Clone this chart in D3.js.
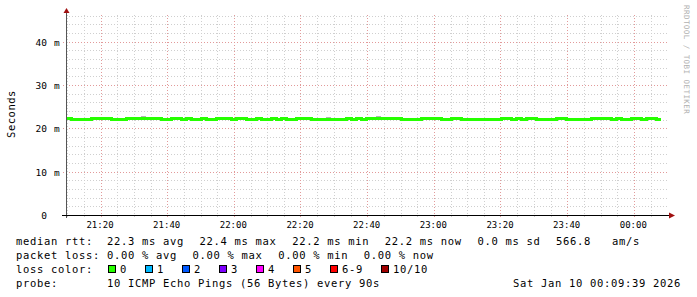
<!DOCTYPE html>
<html><head><meta charset="utf-8">
<script src="https://cdn.jsdelivr.net/npm/d3@7"></script>
<style>html,body{margin:0;padding:0;background:#fff;} svg{display:block;}</style>
</head><body><svg id="c" width="697" height="297"></svg>
<script>
// ---------- data ----------
const startTime = Date.UTC(2026, 0, 9, 21, 9, 39);
const endTime = Date.UTC(2026, 0, 10, 0, 9, 39);
const stepSeconds = 90;
const medianRtt = [
  22.4,22.2,22.2,22.2,22.2,22.4,22.4,22.4,22.4,22.2,
  22.2,22.2,22.4,22.4,22.4,22.4,22.4,22.4,22.4,22.2,
  22.2,22.4,22.4,22.2,22.4,22.2,22.2,22.4,22.2,22.2,
  22.4,22.4,22.4,22.2,22.4,22.4,22.2,22.2,22.4,22.2,
  22.2,22.4,22.2,22.4,22.2,22.2,22.4,22.4,22.4,22.2,
  22.2,22.2,22.2,22.2,22.2,22.2,22.4,22.2,22.4,22.2,
  22.4,22.4,22.4,22.4,22.4,22.4,22.4,22.2,22.2,22.2,
  22.2,22.4,22.4,22.4,22.4,22.2,22.2,22.4,22.4,22.2,
  22.2,22.2,22.2,22.2,22.2,22.2,22.2,22.4,22.4,22.2,
  22.4,22.2,22.4,22.4,22.2,22.2,22.2,22.2,22.4,22.4,
  22.2,22.2,22.2,22.2,22.2,22.4,22.4,22.4,22.4,22.2,
  22.4,22.2,22.2,22.4,22.4,22.2,22.4,22.4,22.2
];
const smokeIndex = [15, 52, 62];
const smokeTop = [22.85, 22.65, 22.75];
const yTicks = [0, 10, 20, 30, 40];
const yUnit = "m";
const xTickLabels = ["21:20","21:40","22:00","22:20","22:40","23:00","23:20","23:40","00:00"];
const row1 = ["median rtt:  22.3 ms avg", "22.4 ms max", "22.2 ms min", "22.2 ms now", "0.0 ms sd", "566.8   am/s"];
const row2 = ["packet loss: 0.00 % avg", "0.00 % max", "0.00 % min", "0.00 % now"];
const lossTitle = "loss color:";
const lossLabels = ["0","1","2","3","4","5","6-9","10/10"];
const lossColors = ["#26ff00","#00b8ff","#0059ff","#7e00ff","#ff00ff","#ff5500","#ff0000","#a10000"];
const probeTitle = "probe:";
const probeText = "10 ICMP Echo Pings (56 Bytes) every 90s";
const stampText = "Sat Jan 10 00:09:39 2026";
const yTitle = "Seconds";
const watermark = "RRDTOOL / TOBI OETIKER";

// ---------- chart ----------
const svg = d3.select("#c");
const X0 = 66, X1 = 666, YB = 215, YT = 15;
const x = d3.scaleUtc().domain([startTime, endTime]).range([X0, X1]);
const y = d3.scaleLinear().domain([0, 46.15]).range([YB, YT]);
const mono = "'DejaVu Sans Mono', monospace";
const nb = s => s.replace(/ /g, "\u00a0");
const CH = 7, GAP = 15.6;

svg.append("rect").attr("width", 697).attr("height", 297).attr("fill", "#fff");

// grid
const g = svg.append("g").attr("shape-rendering", "crispEdges");
const minorY = d3.range(2, 47, 2).filter(v => v % 10 !== 0);
const majorY = d3.range(10, 47, 10);
g.selectAll(".hmin").data(minorY).join("line")
  .attr("x1", X0).attr("x2", 668).attr("y1", d => Math.round(y(d)) + 0.5).attr("y2", d => Math.round(y(d)) + 0.5)
  .attr("stroke", "#cfcfcf").attr("stroke-dasharray", "1,2");
const minorX = d3.utcMinute.every(5).range(startTime, endTime).filter(d => d.getUTCMinutes() % 20 !== 0);
const majorX = d3.utcMinute.every(20).range(startTime, endTime);
g.selectAll(".vmin").data(minorX).join("line")
  .attr("x1", d => Math.round(x(d)) + 0.5).attr("x2", d => Math.round(x(d)) + 0.5)
  .attr("y1", YT).attr("y2", YB + 2)
  .attr("stroke", "#cfcfcf").attr("stroke-dasharray", "1,2");
g.selectAll(".hmaj").data(majorY).join("line")
  .attr("x1", X0 - 3).attr("x2", 668).attr("y1", d => Math.round(y(d)) + 0.5).attr("y2", d => Math.round(y(d)) + 0.5)
  .attr("stroke", "#e29a9a").attr("stroke-dasharray", "1,2");
g.selectAll(".vmaj").data(majorX).join("line")
  .attr("x1", d => Math.round(x(d)) + 0.5).attr("x2", d => Math.round(x(d)) + 0.5)
  .attr("y1", YT).attr("y2", YB + 3)
  .attr("stroke", "#e29a9a").attr("stroke-dasharray", "1,2");

// smoke
const tAt = i => startTime + i * stepSeconds * 1000;
svg.append("g").attr("shape-rendering", "crispEdges").selectAll("rect").data(smokeIndex).join("rect")
  .attr("x", i => x(tAt(i))).attr("width", i => x(tAt(i + 1)) - x(tAt(i)))
  .attr("y", (i, k) => y(smokeTop[k])).attr("height", (i, k) => y(medianRtt[i]) - y(smokeTop[k]) + 1)
  .attr("fill", "#b4b4b4");

// median line
const pts = medianRtt.map((v, i) => [tAt(i), v]);
pts.push([tAt(medianRtt.length), medianRtt[medianRtt.length - 1]]);
svg.append("path").datum(pts)
  .attr("d", d3.line().x(d => x(d[0])).y(d => Math.round(y(d[1])) + 0.5).curve(d3.curveStepAfter))
  .attr("fill", "none").attr("stroke", "#26ff00").attr("stroke-width", 3)
  .attr("shape-rendering", "crispEdges");

// axes
const tickDates = xTickLabels.map(s => {
  const [h, m] = s.split(":").map(Number);
  return new Date(Date.UTC(2026, 0, h < 12 ? 10 : 9, h, m));
});
const xa = svg.append("g").attr("transform", `translate(0,${YB})`)
  .call(d3.axisBottom(x).tickValues(tickDates).tickFormat(d3.utcFormat("%H:%M")).tickSize(0));
xa.select(".domain").remove();
xa.selectAll("text").attr("y", 13).attr("dy", 0).attr("dx", -1)
  .attr("font-family", mono).attr("font-size", "9px").attr("fill", "#000");

const ya = svg.append("g").attr("transform", `translate(${X0},0)`)
  .call(d3.axisLeft(y).tickValues(yTicks).tickFormat(d => d).tickSize(0));
ya.select(".domain").remove();
ya.selectAll("text").attr("x", -19).attr("dy", "0.36em")
  .attr("font-family", mono).attr("font-size", "9.5px").attr("fill", "#000");
ya.selectAll(".tick").filter(d => d !== 0).append("text")
  .attr("x", -12).attr("dy", "0.36em").attr("text-anchor", "start")
  .attr("font-family", mono).attr("font-size", "9.5px").attr("fill", "#000").text(yUnit);

// axis lines and arrows
svg.append("line").attr("x1", X0 + 0.5).attr("x2", X0 + 0.5).attr("y1", YB + 3).attr("y2", 12)
  .attr("stroke", "#555").attr("shape-rendering", "crispEdges");
svg.append("line").attr("x1", X0 - 4).attr("x2", 670).attr("y1", YB + 0.5).attr("y2", YB + 0.5)
  .attr("stroke", "#000").attr("shape-rendering", "crispEdges");
svg.append("path").attr("d", `M${X0 + 0.5},8 L${X0 + 3.5},13 L${X0 - 2.5},13 Z`).attr("fill", "#a01010");
svg.append("path").attr("d", `M675,${YB + 0.5} L669,${YB - 2.5} L669,${YB + 3.5} Z`).attr("fill", "#a01010");

// titles
svg.append("text").attr("transform", "translate(14.5,114) rotate(-90)").attr("text-anchor", "middle")
  .attr("font-family", mono).attr("font-size", "10.5px").attr("letter-spacing", "0.5px").attr("fill", "#000").text(yTitle);
svg.append("text").attr("transform", "translate(684,5) rotate(90)")
  .attr("font-family", mono).attr("font-size", "7.5px").attr("letter-spacing", "0.45px").attr("fill", "#b0b0b0").text(watermark);

// legend
const lg = svg.append("g").attr("font-family", mono).attr("font-size", "10.5px").attr("letter-spacing", "0.68px")
  .attr("fill", "#000");
function legendRow(items, yy) {
  let px = 16;
  items.forEach(s => {
    lg.append("text").attr("x", px).attr("y", yy).text(nb(s));
    px += s.length * CH + GAP;
  });
}
legendRow(row1, 245);
legendRow(row2, 259);
lg.append("text").attr("x", 16).attr("y", 273).text(nb(lossTitle));
let lx = 108;
lossLabels.forEach((lab, i) => {
  lg.append("rect").attr("x", lx + 0.5).attr("y", 265.5).attr("width", 7).attr("height", 7)
    .attr("fill", lossColors[i]).attr("stroke", "#000").attr("stroke-width", 1).attr("shape-rendering", "crispEdges");
  lg.append("text").attr("x", lx + 12).attr("y", 273).text(lab);
  lx += 37 + 7 * (lab.length - 1);
});
lg.append("text").attr("x", 16).attr("y", 287).text(nb(probeTitle));
lg.append("text").attr("x", 107).attr("y", 287).text(nb(probeText));
lg.append("text").attr("x", 513).attr("y", 287).text(nb(stampText));
</script>
</body></html>
